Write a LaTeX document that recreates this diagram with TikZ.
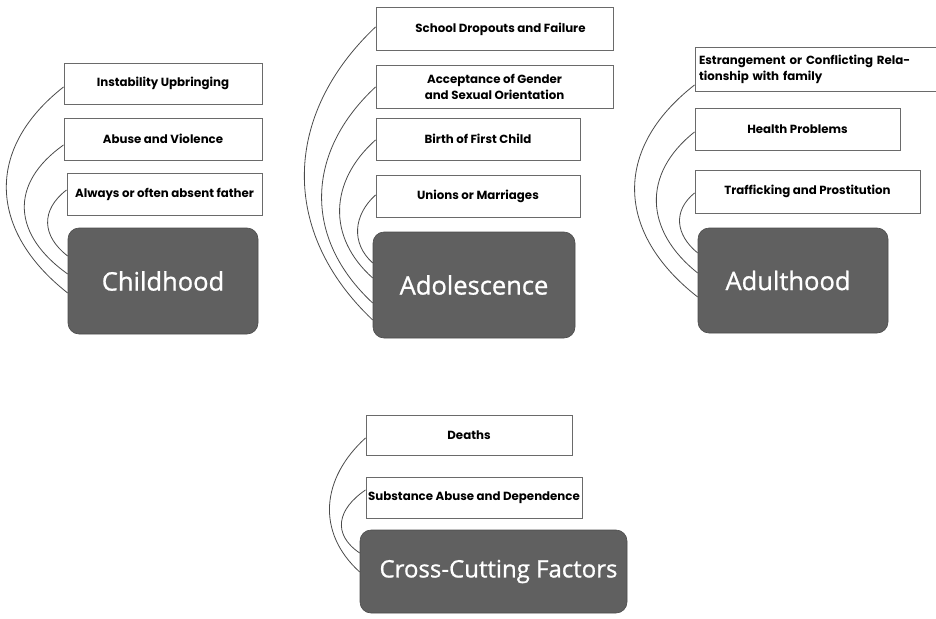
\documentclass[tikz,border=0pt]{standalone}
\usepackage{fontspec}
\newfontfamily\boxfont{Poppins}
\newfontfamily\bigfont{Open Sans}[FakeBold=0.9]
\definecolor{darkbox}{HTML}{606060}
\definecolor{edgegray}{HTML}{6A6A6A}
\definecolor{curvegray}{HTML}{4A4A4A}
\begin{document}
\begin{tikzpicture}[x=1pt,y=-1pt,
  factor/.style={draw=edgegray,line width=1pt,fill=white,inner sep=0pt,
    font=\boxfont\bfseries\fontsize{11.8}{16}\selectfont,align=center},
  stage/.style={draw=black!70,line width=0.6pt,fill=darkbox,rounded corners=11pt,
    inner sep=0pt,text=white,font=\bigfont\fontsize{25.5}{30}\selectfont},
  link/.style={draw=curvegray,line width=0.8pt}]
\useasboundingbox (0,0) rectangle (936,618);
% ---------- Childhood ----------
\node[factor,minimum width=198,minimum height=41] (cA1) at (163,83.5) {Instability Upbringing};
\node[factor,minimum width=198,minimum height=42] (cA2) at (163,139) {Abuse and Violence};
\node[factor,minimum width=195,minimum height=42] (cA3) at (164.5,194) {Always or often absent father};
\node[stage,minimum width=190,minimum height=106] (cD) at (163,281) {Childhood};
\draw[link] ([yshift=-3.5]cA1.west) .. controls +(-79,62) and +(-79,-62) .. ([yshift=-12]cD.west);
\draw[link] ([yshift=-6]cA2.west) .. controls +(-55,39) and +(-55,-39) .. ([yshift=7]cD.west);
\draw[link] ([yshift=4]cA3.west) .. controls +(-26,20) and +(-26,-20) .. ([yshift=25]cD.west);
% ---------- Adolescence ----------
\node[factor,minimum width=237,minimum height=43] (aA1) at (494.5,29.5) {\hspace*{12pt}School Dropouts and Failure};
\node[factor,minimum width=237,minimum height=43] (aA2) at (494.5,86.5) {Acceptance of Gender\\and Sexual Orientation};
\node[factor,minimum width=204,minimum height=42] (aA3) at (478,139) {Birth of First Child};
\node[factor,minimum width=204,minimum height=42] (aA4) at (478,196) {Unions or Marriages};
\node[stage,minimum width=202,minimum height=106] (aD) at (474,285) {Adolescence};
\draw[link] ([yshift=2.5]aA1.west) .. controls +(-93,88) and +(-93,-88) .. ([yshift=-35]aD.west);
\draw[link] ([yshift=-0.5]aA2.west) .. controls +(-70,65) and +(-70,-65) .. ([yshift=-18]aD.west);
\draw[link] ([yshift=-1]aA3.west) .. controls +(-46,41) and +(-46,-41) .. ([yshift=7]aD.west);
\draw[link] ([yshift=1]aA4.west) .. controls +(-22,20) and +(-22,-20) .. ([yshift=22]aD.west);
% ---------- Adulthood ----------
\node[factor,minimum width=245,minimum height=43,align=left,text width=237] (dA1) at (817.5,69.5) {Estrangement or Conflicting Rela-\\tionship with family};
\node[factor,minimum width=205,minimum height=42] (dA2) at (797.5,129) {Health Problems};
\node[factor,minimum width=225,minimum height=43] (dA3) at (807.5,191.5) {Trafficking and Prostitution};
\node[stage,minimum width=190,minimum height=105] (dD) at (793,280.5) {Adulthood\hspace*{10pt}};
\draw[link] ([yshift=-15.5]dA1.west) .. controls +(-82,64) and +(-82,-64) .. ([yshift=-16.5]dD.west);
\draw[link] ([yshift=-3]dA2.west) .. controls +(-53,42) and +(-53,-42) .. ([yshift=7.5]dD.west);
\draw[link] ([yshift=-1.5]dA3.west) .. controls +(-22,18) and +(-22,-18) .. ([yshift=27.5]dD.west);
% ---------- Cross-Cutting ----------
\node[factor,minimum width=206,minimum height=40] (xA1) at (469,435) {Deaths};
\node[factor,minimum width=216,minimum height=41] (xA2) at (474,497.5) {Substance Abuse and Dependence};
\node[stage,minimum width=267,minimum height=83,font=\bigfont\fontsize{24}{28}\selectfont] (xD) at (493.5,571.5) {\hspace*{10pt}Cross-Cutting Factors};
\draw[link] ([yshift=-3]xA1.west) .. controls +(-44,40) and +(-44,-40) .. ([yshift=-0.5]xD.west);
\draw[link] ([yshift=7.5]xA2.west) .. controls +(-28,19) and +(-28,-19) .. ([yshift=18.5]xD.west);
\end{tikzpicture}
\end{document}
